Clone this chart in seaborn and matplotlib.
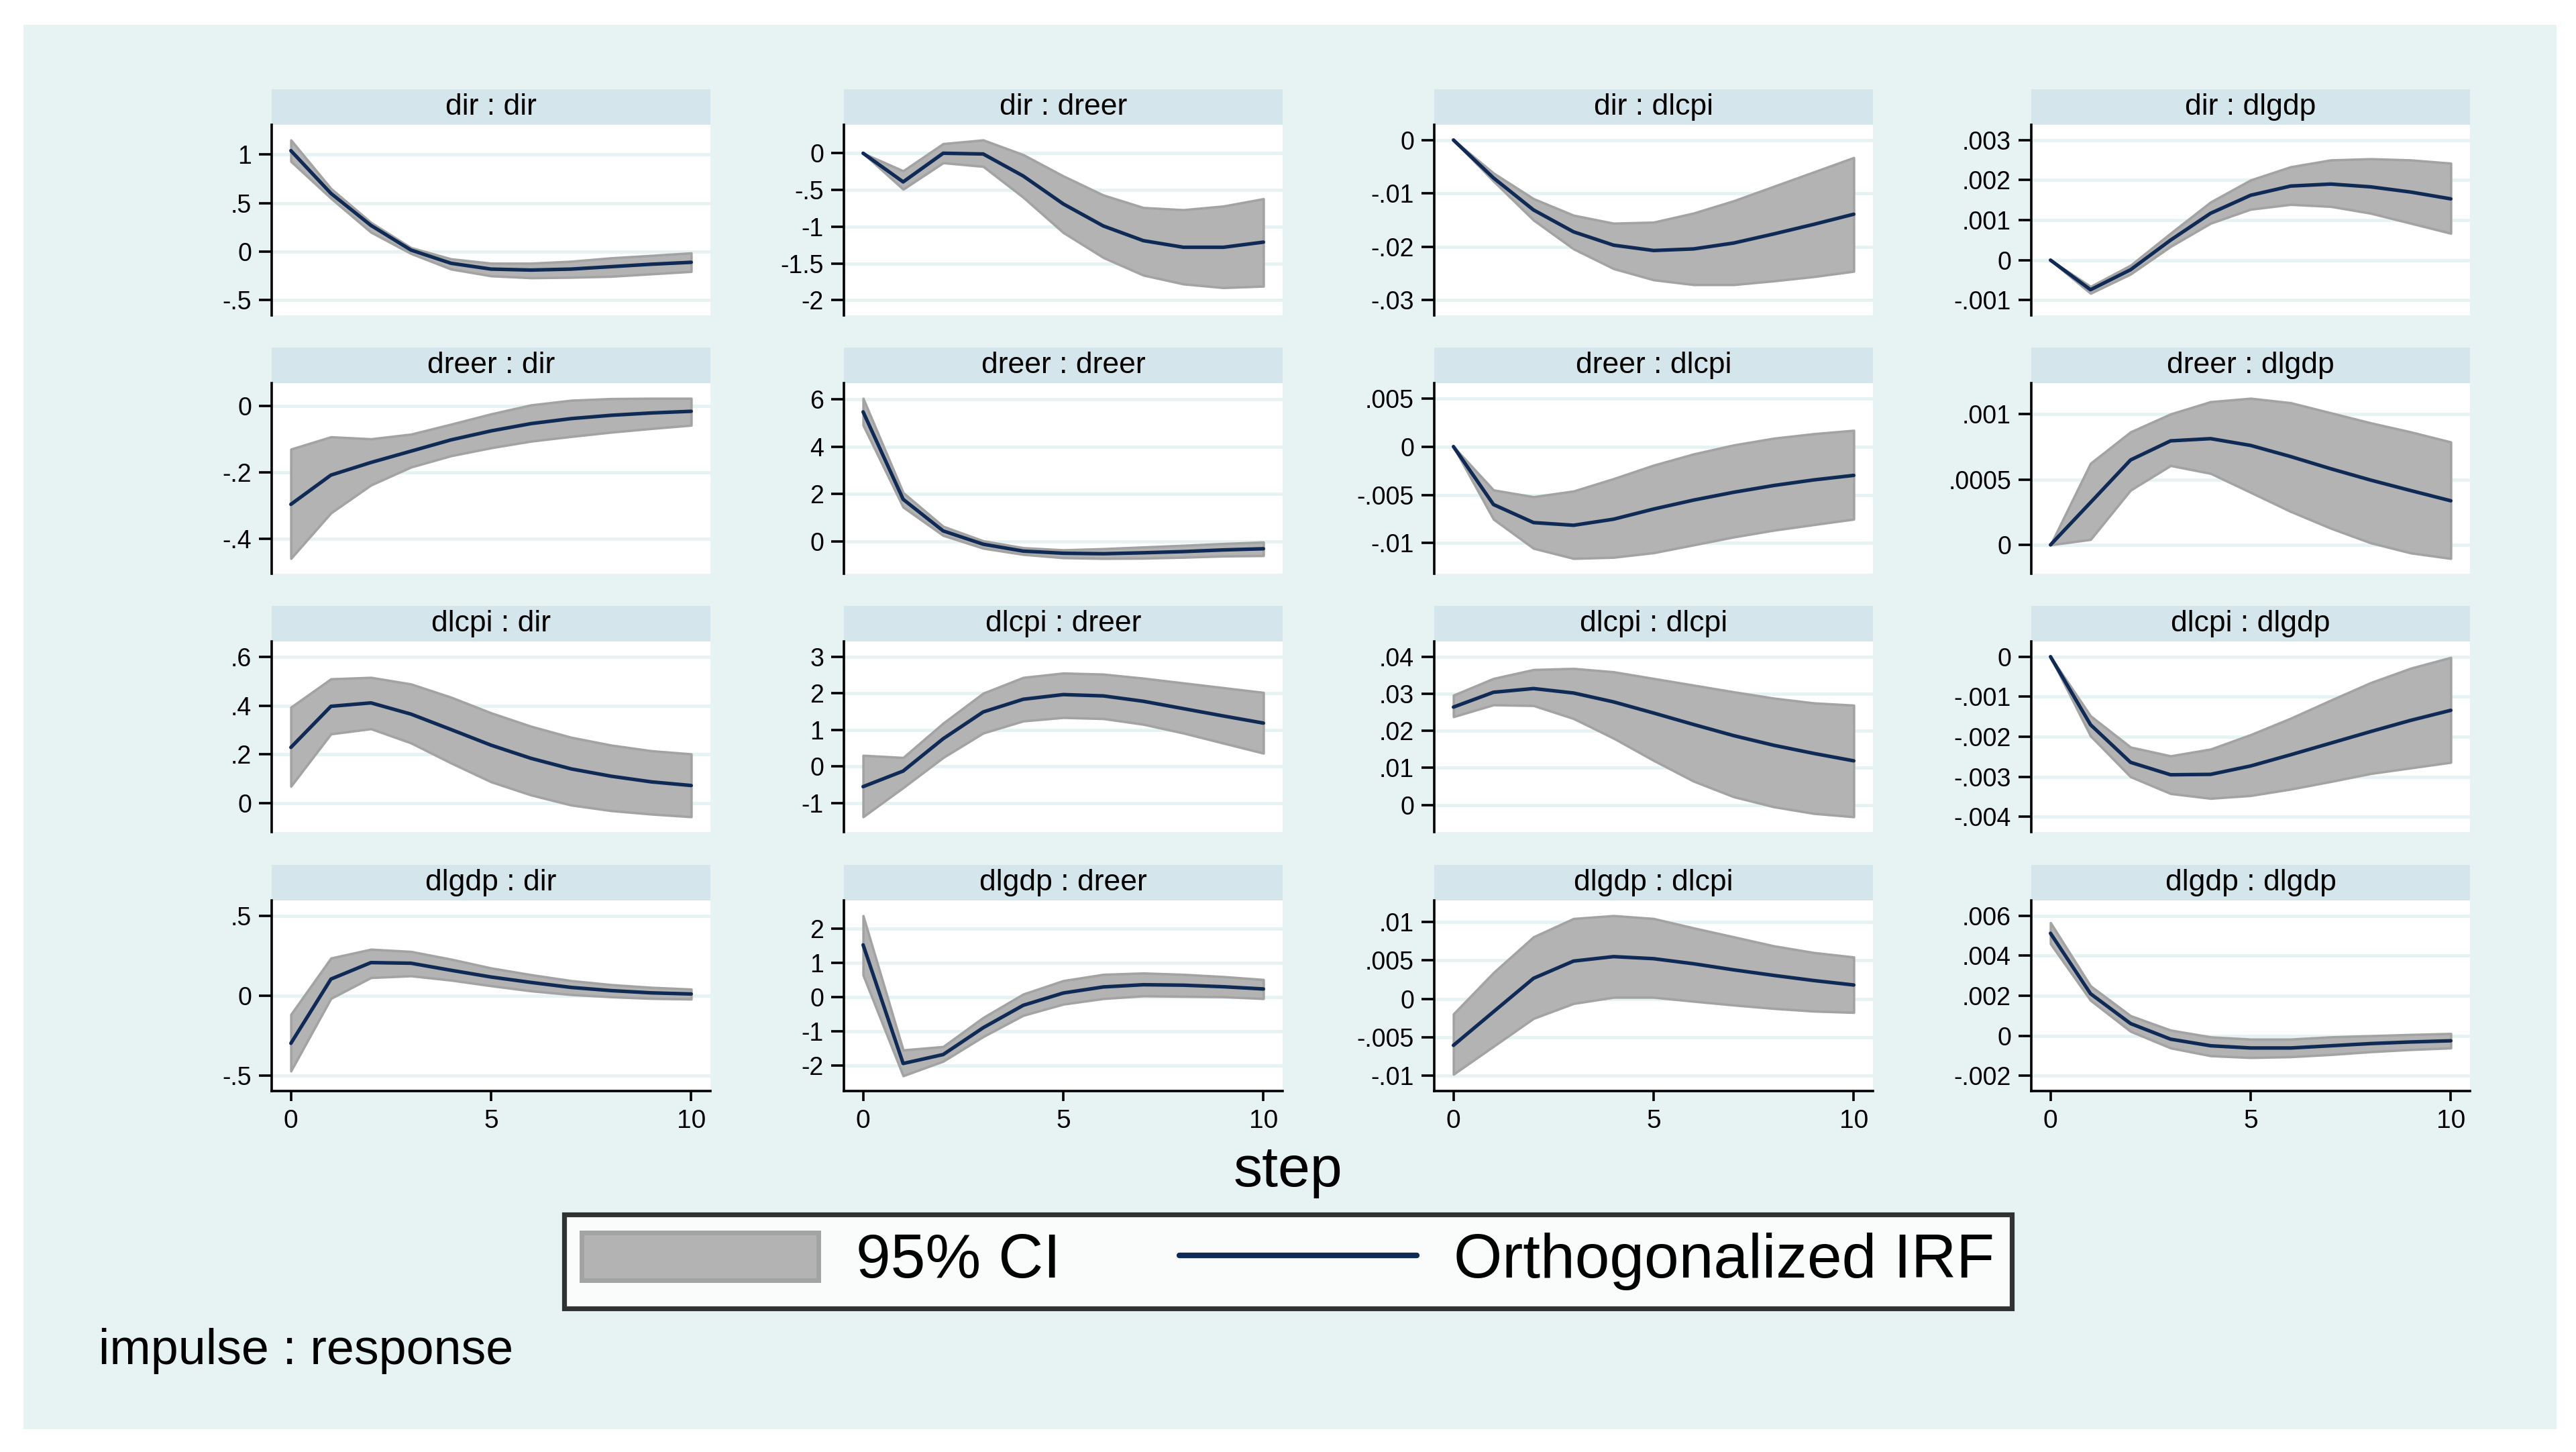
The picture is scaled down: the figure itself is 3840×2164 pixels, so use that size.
import numpy as np
import pandas as pd
import seaborn as sns
import matplotlib.pyplot as plt
from matplotlib.patches import Rectangle, Patch
from matplotlib.lines import Line2D
from matplotlib.ticker import FuncFormatter

## DATA
steps = list(range(11))
variables = ["dir", "dreer", "dlcpi", "dlgdp"]

irf = {
    "dir : dir": [1.04, 0.60, 0.27, 0.016, -0.12, -0.18, -0.19, -0.18, -0.155, -0.13, -0.11],
    "dir : dreer": [0, -0.39, 0, -0.01, -0.31, -0.69, -0.99, -1.19, -1.28, -1.28, -1.21],
    "dir : dlcpi": [0, -0.0071, -0.0131, -0.0172, -0.0197, -0.0207, -0.0204, -0.0193, -0.0176, -0.0158, -0.0139],
    "dir : dlgdp": [0, -0.00074, -0.00024, 0.0005, 0.00117, 0.00162, 0.00185, 0.0019, 0.00183, 0.0017, 0.00153],
    "dreer : dir": [-0.297, -0.209, -0.171, -0.137, -0.103, -0.076, -0.054, -0.039, -0.029, -0.022, -0.017],
    "dreer : dreer": [5.46, 1.78, 0.45, -0.11, -0.40, -0.49, -0.51, -0.47, -0.42, -0.35, -0.30],
    "dreer : dlcpi": [0, -0.006, -0.00787, -0.00815, -0.00752, -0.00647, -0.00554, -0.00473, -0.00403, -0.00345, -0.00298],
    "dreer : dlgdp": [0, 0.000324, 0.000649, 0.000795, 0.000812, 0.00076, 0.000675, 0.000582, 0.000495, 0.000415, 0.000337],
    "dlcpi : dir": [0.229, 0.397, 0.411, 0.365, 0.302, 0.238, 0.184, 0.141, 0.111, 0.088, 0.073],
    "dlcpi : dreer": [-0.555, -0.128, 0.756, 1.488, 1.835, 1.963, 1.927, 1.78, 1.579, 1.378, 1.183],
    "dlcpi : dlcpi": [0.0264, 0.0304, 0.0314, 0.0302, 0.0278, 0.0248, 0.0217, 0.0187, 0.0161, 0.0139, 0.0119],
    "dlcpi : dlgdp": [0, -0.0017, -0.00264, -0.00295, -0.00294, -0.00273, -0.00245, -0.00216, -0.00187, -0.00159, -0.00134],
    "dlgdp : dir": [-0.297, 0.104, 0.207, 0.203, 0.159, 0.117, 0.083, 0.052, 0.032, 0.018, 0.011],
    "dlgdp : dreer": [1.525, -1.944, -1.682, -0.897, -0.242, 0.118, 0.295, 0.36, 0.347, 0.301, 0.236],
    "dlgdp : dlcpi": [-0.00604, -0.00168, 0.00267, 0.00491, 0.00549, 0.00522, 0.00456, 0.00377, 0.00305, 0.00238, 0.0018],
    "dlgdp : dlgdp": [0.00512, 0.0021, 0.00061, -0.00017, -0.0005, -0.00061, -0.00061, -0.0005, -0.00039, -0.00031, -0.00025],
}

ci_lo = {
    "dir : dir": [0.93, 0.55, 0.20, -0.02, -0.18, -0.25, -0.27, -0.265, -0.255, -0.23, -0.205],
    "dir : dreer": [0, -0.49, -0.13, -0.18, -0.60, -1.08, -1.42, -1.66, -1.78, -1.83, -1.81],
    "dir : dlcpi": [0, -0.0077, -0.015, -0.0204, -0.0241, -0.0262, -0.0271, -0.0271, -0.0264, -0.0256, -0.0246],
    "dir : dlgdp": [0, -0.00083, -0.00035, 0.00034, 0.00092, 0.00127, 0.00139, 0.00134, 0.00117, 0.00092, 0.00067],
    "dreer : dir": [-0.46, -0.323, -0.239, -0.185, -0.151, -0.127, -0.107, -0.093, -0.08, -0.069, -0.059],
    "dreer : dreer": [4.9, 1.45, 0.26, -0.28, -0.54, -0.68, -0.71, -0.70, -0.66, -0.61, -0.59],
    "dreer : dlcpi": [0, -0.00752, -0.01054, -0.01159, -0.01147, -0.011, -0.01019, -0.00937, -0.00867, -0.00809, -0.00752],
    "dreer : dlgdp": [0, 0.000041, 0.000418, 0.000606, 0.000546, 0.000401, 0.000255, 0.000127, 0.000015, -0.000062, -0.000104],
    "dlcpi : dir": [0.07, 0.284, 0.305, 0.247, 0.165, 0.088, 0.034, -0.007, -0.03, -0.044, -0.055],
    "dlcpi : dreer": [-1.38, -0.585, 0.24, 0.91, 1.24, 1.335, 1.305, 1.15, 0.91, 0.634, 0.36],
    "dlcpi : dlcpi": [0.0238, 0.027, 0.0268, 0.0233, 0.018, 0.012, 0.0064, 0.0022, -0.0005, -0.0023, -0.0032],
    "dlcpi : dlgdp": [0, -0.00198, -0.003, -0.00342, -0.00354, -0.00347, -0.00331, -0.00312, -0.00292, -0.00278, -0.00264],
    "dlgdp : dir": [-0.47, -0.017, 0.113, 0.124, 0.097, 0.062, 0.03, 0.007, -0.007, -0.017, -0.021],
    "dlgdp : dreer": [0.642, -2.304, -1.879, -1.159, -0.537, -0.21, -0.046, 0.033, 0.02, 0.007, -0.046],
    "dlgdp : dlcpi": [-0.0098, -0.00618, -0.00255, -0.00061, 0.0002, 0.0002, -0.00032, -0.00081, -0.00125, -0.0016, -0.00177],
    "dlgdp : dlgdp": [0.0046, 0.00177, 0.00022, -0.00061, -0.001, -0.00109, -0.00105, -0.00094, -0.0008, -0.00069, -0.00061],
}

ci_hi = {
    "dir : dir": [1.15, 0.65, 0.30, 0.04, -0.075, -0.12, -0.12, -0.10, -0.065, -0.04, -0.014],
    "dir : dreer": [0, -0.24, 0.13, 0.18, -0.02, -0.31, -0.57, -0.74, -0.77, -0.72, -0.62],
    "dir : dlcpi": [0, -0.0062, -0.011, -0.0141, -0.0156, -0.0154, -0.0137, -0.0114, -0.0087, -0.006, -0.0033],
    "dir : dlgdp": [0, -0.00066, -0.00013, 0.00067, 0.00145, 0.002, 0.00233, 0.0025, 0.00253, 0.0025, 0.00242],
    "dreer : dir": [-0.131, -0.094, -0.10, -0.086, -0.056, -0.025, 0.002, 0.016, 0.021, 0.022, 0.022],
    "dreer : dreer": [6.03, 2.06, 0.64, 0.03, -0.26, -0.35, -0.30, -0.23, -0.16, -0.085, -0.02],
    "dreer : dlcpi": [0, -0.0045, -0.0052, -0.00461, -0.00333, -0.00193, -0.00077, 0.00016, 0.00086, 0.00133, 0.00168],
    "dreer : dlgdp": [0, 0.000623, 0.000863, 0.001, 0.001094, 0.00112, 0.001086, 0.001009, 0.000932, 0.000863, 0.000786],
    "dlcpi : dir": [0.393, 0.509, 0.515, 0.488, 0.434, 0.37, 0.315, 0.27, 0.238, 0.215, 0.202],
    "dlcpi : dreer": [0.30, 0.24, 1.18, 2.0, 2.43, 2.55, 2.52, 2.41, 2.28, 2.15, 2.02],
    "dlcpi : dlcpi": [0.0296, 0.0341, 0.0365, 0.0368, 0.0359, 0.0341, 0.0323, 0.0305, 0.0288, 0.0275, 0.0269],
    "dlcpi : dlgdp": [0, -0.00148, -0.00226, -0.00248, -0.00231, -0.00195, -0.00154, -0.00109, -0.00065, -0.00029, -0.00002],
    "dlgdp : dir": [-0.117, 0.235, 0.29, 0.276, 0.228, 0.173, 0.131, 0.094, 0.069, 0.052, 0.041],
    "dlgdp : dreer": [2.38, -1.55, -1.45, -0.60, 0.085, 0.478, 0.661, 0.70, 0.661, 0.596, 0.51],
    "dlgdp : dlcpi": [-0.00197, 0.0034, 0.00805, 0.01043, 0.01081, 0.01043, 0.00921, 0.00805, 0.00688, 0.00601, 0.00543],
    "dlgdp : dlgdp": [0.00565, 0.00249, 0.001, 0.00028, -0.00006, -0.00017, -0.00017, -0.00006, 0, 0.00006, 0.00011],
}

yticks = {
    "dir : dir": [-0.5, 0, 0.5, 1],
    "dir : dreer": [-2, -1.5, -1, -0.5, 0],
    "dir : dlcpi": [-0.03, -0.02, -0.01, 0],
    "dir : dlgdp": [-0.001, 0, 0.001, 0.002, 0.003],
    "dreer : dir": [-0.4, -0.2, 0],
    "dreer : dreer": [0, 2, 4, 6],
    "dreer : dlcpi": [-0.01, -0.005, 0, 0.005],
    "dreer : dlgdp": [0, 0.0005, 0.001],
    "dlcpi : dir": [0, 0.2, 0.4, 0.6],
    "dlcpi : dreer": [-1, 0, 1, 2, 3],
    "dlcpi : dlcpi": [0, 0.01, 0.02, 0.03, 0.04],
    "dlcpi : dlgdp": [-0.004, -0.003, -0.002, -0.001, 0],
    "dlgdp : dir": [-0.5, 0, 0.5],
    "dlgdp : dreer": [-2, -1, 0, 1, 2],
    "dlgdp : dlcpi": [-0.01, -0.005, 0, 0.005, 0.01],
    "dlgdp : dlgdp": [-0.002, 0, 0.002, 0.004, 0.006],
}
xticks = [0, 5, 10]

## LONG TABLE
rows = []
for name in irf:
    imp, resp = name.split(" : ")
    for i, s in enumerate(steps):
        rows.append({"impulse": imp, "response": resp, "step": s,
                     "irf": irf[name][i], "lo": ci_lo[name][i], "hi": ci_hi[name][i]})
df = pd.DataFrame(rows)

# ---------------------------
# STYLE
# ---------------------------
sns.set_theme(style="white")
plt.rcParams["font.family"] = ["Liberation Sans", "DejaVu Sans"]
plt.rcParams["text.color"] = "black"
plt.rcParams["axes.labelcolor"] = "black"
plt.rcParams["xtick.color"] = "black"
plt.rcParams["ytick.color"] = "black"

BG = "#e7f2f3"
STRIP = "#d5e5ec"
NAVY = "#102a56"
FILL = "#b3b3b3"
EDGE = "#a3a3a3"

W, H = 3840, 2164
fig = plt.figure(figsize=(W / 200, H / 200), dpi=200, facecolor="white")
fig.add_artist(Rectangle((35 / W, 1 - 2130 / H), (3811 - 35) / W, (2130 - 37) / H,
                         transform=fig.transFigure, facecolor=BG, edgecolor="none", zorder=-5))

col_left = [405, 1258, 2138, 3028]
row_top = [186, 571, 956, 1342]
pw, ph, sh = 654, 284, 53


def stata_fmt(v, pos=None):
    s = f"{round(v, 6):g}"
    if s.startswith("0.") or s.startswith("-0."):
        s = s.replace("0.", ".", 1)
    return s


for r, imp in enumerate(variables):
    for c, resp in enumerate(variables):
        name = f"{imp} : {resp}"
        sub = df[(df["impulse"] == imp) & (df["response"] == resp)]
        ax = fig.add_axes([col_left[c] / W, 1 - (row_top[r] + ph) / H, pw / W, ph / H])
        ax.set_facecolor("white")

        ax.fill_between(sub["step"], sub["lo"], sub["hi"], facecolor=FILL,
                        edgecolor=EDGE, linewidth=1.3, zorder=2)
        sns.lineplot(data=sub, x="step", y="irf", ax=ax, color=NAVY, linewidth=1.9, zorder=3)

        # y range: ticks and data, plus a margin
        tk = yticks[name]
        lo_v = min(min(tk), sub["lo"].min(), sub["irf"].min())
        hi_v = max(max(tk), sub["hi"].max(), sub["irf"].max())
        m = 0.095 * (hi_v - lo_v)
        ax.set_ylim(lo_v - m, hi_v + m)
        ax.set_xlim(-0.48, 10.48)
        ax.set_yticks(tk)
        ax.yaxis.set_major_formatter(FuncFormatter(stata_fmt))
        ax.yaxis.grid(True, color=BG, linewidth=1.7)
        ax.set_axisbelow(True)

        for sp in ["top", "right"]:
            ax.spines[sp].set_visible(False)
        ax.spines["left"].set_color("black")
        ax.spines["left"].set_linewidth(1.3)
        ax.tick_params(axis="y", left=True, length=6.8, width=1.3, pad=4,
                       labelsize=13.5, colors="black")
        if r == 3:
            ax.spines["bottom"].set_color("black")
            ax.spines["bottom"].set_linewidth(1.3)
            ax.set_xticks(xticks)
            ax.tick_params(axis="x", bottom=True, length=5.3, width=1.3, pad=4.5,
                           labelsize=14, colors="black")
        else:
            ax.spines["bottom"].set_visible(False)
            ax.set_xticks([])
        ax.set_xlabel("")
        ax.set_ylabel("")

        # facet strip
        ax.add_patch(Rectangle((0, 1), 1, sh / ph, transform=ax.transAxes,
                               facecolor=STRIP, edgecolor="none", clip_on=False))
        ax.text(0.5, 1 + sh / ph / 2, name, transform=ax.transAxes,
                ha="center", va="center", fontsize=16, color="black")

fig.text(0.5, 1 - 1746 / H, "step", ha="center", va="center", fontsize=31, color="black")
fig.text(147 / W, 1 - 2013 / H, "impulse : response", ha="left", va="center",
         fontsize=26.5, color="black")

handles = [Patch(facecolor=FILL, edgecolor=EDGE, linewidth=2.5),
           Line2D([0], [0], color=NAVY, linewidth=3)]
leg = fig.legend(handles, ["95% CI", "Orthogonalized IRF"], loc="center",
                 bbox_to_anchor=(0.5, 1 - 1880 / H), ncol=2, fontsize=33.5,
                 frameon=True, fancybox=False, handlelength=3.8, handleheight=0.8,
                 handletextpad=0.6, columnspacing=1.9, borderpad=0.28, borderaxespad=0)
for t in leg.get_texts():
    t.set_color("black")
leg.get_frame().set_edgecolor("black")
leg.get_frame().set_linewidth(2.6)
leg.get_frame().set_facecolor("white")

plt.savefig("out.png", dpi=200, facecolor="white")
